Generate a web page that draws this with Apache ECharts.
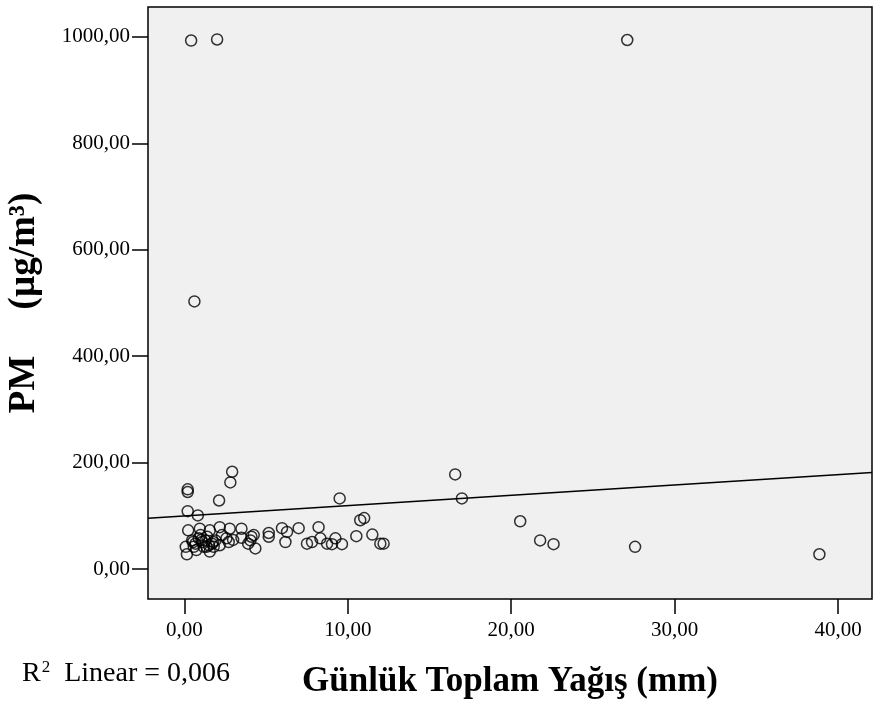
<!DOCTYPE html>
<html>
<head>
<meta charset="utf-8">
<style>html,body{margin:0;padding:0;background:#fff;}#c{width:874px;height:705px;}</style>
<script src="https://cdn.jsdelivr.net/npm/echarts@6/dist/echarts.min.js"></script>
</head>
<body>
<div id="c"></div>
<script>
// Daily total precipitation (mm) vs PM (µg/m³)
const rainMm = [0.41,2.0,27.1,0.61,2.92,2.81,0.2,0.2,2.12,9.5,16.57,16.98,0.2,0.82,10.76,11.0,20.55,21.77,22.59,27.58,38.86,
  0.23,0.94,1.55,2.16,2.77,3.49,3.49,4.1,4.24,5.16,5.16,5.97,6.28,6.99,8.21,8.32,7.5,7.81,8.73,9.03,9.24,9.64,10.52,11.5,11.99,12.19,6.18,4.34,4.04,2.71,0.15,0.08,
  0.53,1.04,1.35,1.76,2.16,2.57,0.73,1.55,2.98,3.9,0.47,0.67,0.88,1.08,1.28,1.49,1.69,1.9,2.3,0.57,1.18,1.79,1.39,0.98];
const pmValues = [993,995,994,503,183,163,150,145,129,133,178,133,109,101,92,96,90,54,47,42,28,
  73,76,73,79,76,76,59,61,64,68,61,77,70,77,79,58,48,51,48,47,58,47,62,65,48,48,51,39,54,51,28,42,
  51,55,42,51,45,58,36,33,55,48,54,48,58,51,54,45,48,54,64,42,42,42,61,64];
const xTicks = [0,10,20,30,40];
const yTicks = [0,200,400,600,800,1000];
const fitIntercept = 100;
const fitSlope = 1.94;
const r2Text = '0,006';
const xMin = -2.23, xMax = 42.08, yMin = -56, yMax = 1056;

const points = rainMm.map((x,i)=>[x,pmValues[i]]);
const fitLine = [[xMin, fitIntercept + fitSlope*xMin],[xMax, fitIntercept + fitSlope*xMax]];
const fmt = v => v.toFixed(2).replace('.', ',');
const FONT = 'Liberation Serif';

const chart = echarts.init(document.getElementById('c'));
chart.setOption({
  backgroundColor:'#fff',
  animation:false,
  grid:{left:148, top:7, right:2, bottom:106, show:true, backgroundColor:'#f0f0f0', borderColor:'#000', borderWidth:1.5, containLabel:false, outerBoundsMode:'none'},
  xAxis:{
    type:'value', min:xMin, max:xMax,
    name:'Günlük Toplam Yağış (mm)', nameLocation:'middle', nameGap:65,
    nameTextStyle:{fontFamily:FONT, fontWeight:'bold', fontSize:35, color:'#000'},
    axisLine:{show:false, onZero:false},
    axisTick:{show:true, length:15, customValues:xTicks, lineStyle:{color:'#000', width:1.5}},
    axisLabel:{customValues:xTicks, formatter:fmt, fontFamily:FONT, fontSize:21, color:'#000', margin:21},
    splitLine:{show:false}
  },
  yAxis:{
    type:'value', min:yMin, max:yMax,
    name:'PM     (µg/m³)', nameLocation:'middle', nameGap:105,
    nameTextStyle:{fontFamily:FONT, fontWeight:'bold', fontSize:37, color:'#000'},
    axisLine:{show:false, onZero:false},
    axisTick:{show:true, length:16, customValues:yTicks, lineStyle:{color:'#000', width:1.5}},
    axisLabel:{customValues:yTicks, formatter:fmt, fontFamily:FONT, fontSize:21, color:'#000', margin:18},
    splitLine:{show:false}
  },
  graphic:[{
    type:'text', left:22, top:659,
    style:{
      text:'{n|R}{s|2}{n|  Linear = ' + r2Text + '}',
      rich:{
        n:{fontFamily:FONT, fontSize:28, fill:'#000', verticalAlign:'bottom'},
        s:{fontFamily:FONT, fontSize:17, fill:'#000', verticalAlign:'top', padding:[0,0,12,1]}
      }
    }
  }],
  series:[
    {type:'line', data:fitLine, symbol:'none', silent:true, z:1, lineStyle:{color:'#000', width:1.5}},
    {type:'scatter', data:points, symbol:'circle', symbolSize:11, z:2,
     itemStyle:{color:'rgba(0,0,0,0)', borderColor:'#000', borderWidth:1.5}}
  ]
});
</script>
</body>
</html>
